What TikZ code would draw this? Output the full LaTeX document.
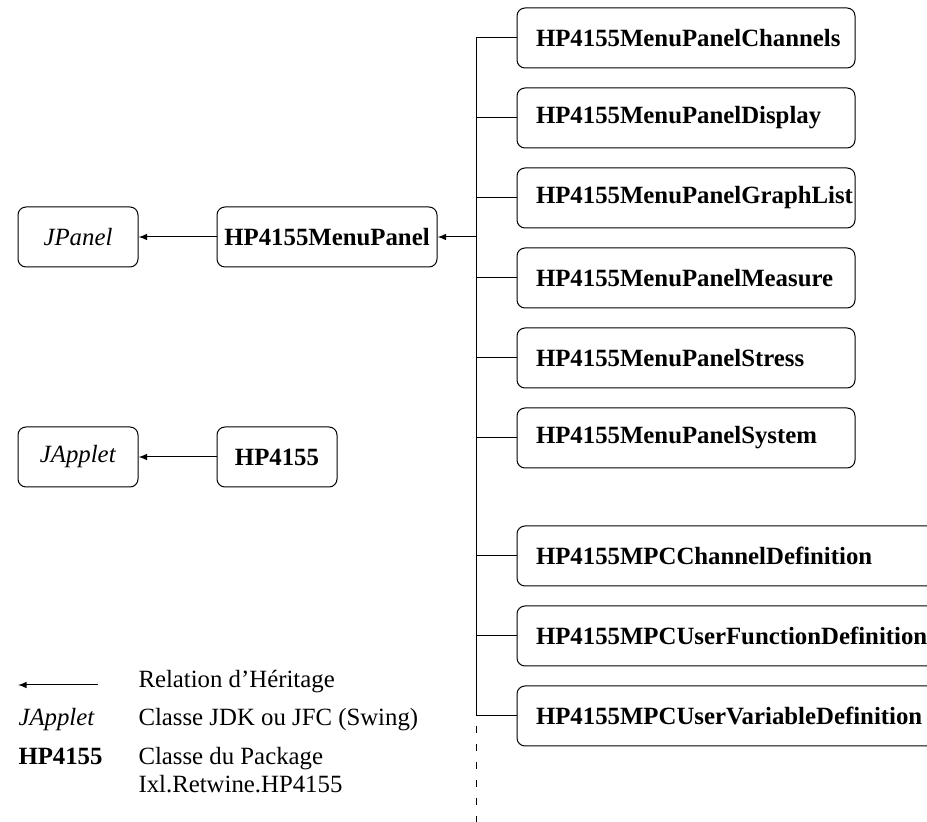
\documentclass[tikz,border=0pt]{standalone}
\usepackage{fontspec}
\setmainfont{Liberation Serif}
\begin{document}
\begin{tikzpicture}[x=0.5pt,y=-0.5pt,line width=0.5pt,
    every node/.style={font=\fontsize{12.4pt}{14.5pt}\selectfont},
    classbox/.style={draw,rounded corners=4pt,minimum height=30pt,inner sep=0pt},
    menubox/.style={classbox,text width=150pt,inner xsep=9.5pt,align=left},
    mpcbox/.style={classbox,text width=203pt,inner xsep=9.5pt,align=left}]
      \useasboundingbox (0,0) rectangle (927,822);
      \node[classbox,minimum width=60pt] (jpanel) at (78,237) {\textit{JPanel}};
      \node[classbox,minimum width=110pt] (menupanel) at (327,237) {\textbf{HP4155MenuPanel}};
      \node[classbox,minimum width=60pt] (japplet) at (78,457) {\textit{JApplet}};
      \node[classbox,minimum width=60pt] (hpmain) at (277,457) {\textbf{HP4155}};
      \node[menubox] (channels) at (686,38) {\textbf{HP4155MenuPanelChannels}};
      \node[menubox] (display) at (686,118) {\textbf{HP4155MenuPanelDisplay}};
      \node[menubox] (graphlist) at (686,198) {\textbf{HP4155MenuPanelGraphList}};
      \node[menubox] (measure) at (686,278) {\textbf{HP4155MenuPanelMeasure}};
      \node[menubox] (stress) at (686,358) {\textbf{HP4155MenuPanelStress}};
      \node[menubox] (system) at (686,438) {\textbf{HP4155MenuPanelSystem}};
      \node[mpcbox] (mpcchannel) at (739,556) {\textbf{HP4155MPCChannelDefinition}};
      \node[mpcbox] (mpcfunction) at (739,636) {\textbf{HP4155MPCUserFunctionDefinition}};
      \node[mpcbox] (mpcvariable) at (739,716) {\textbf{HP4155MPCUserVariableDefinition}};
      \coordinate (trunktop) at (476,38);
      \coordinate (trunkend) at (476,716);
      \coordinate (trunkfoot) at (476,822);
      \coordinate (menujoin) at (476,237);
      \draw (trunktop) -- (trunkend);
      \draw[dash pattern=on 3.5pt off 5.5pt,dash phase=4pt] (trunkend) -- (trunkfoot);
      \foreach \n in {channels,display,graphlist,measure,stress,system,mpcchannel,mpcfunction,mpcvariable}
        \draw (trunktop |- \n.west) -- (\n.west);
      \draw[-latex] (menujoin) -- (menupanel.east);
      \draw[-latex] (menupanel.west) -- (jpanel.east);
      \draw[-latex] (hpmain.west) -- (japplet.east);
      \coordinate (legtail) at (98,685);
      \coordinate (leghead) at (18,685);
      \draw[-latex] (legtail) -- (leghead);
      \node[anchor=base west,inner sep=0pt] (legarrow) at (138,688) {Relation d’Héritage};
      \node[anchor=base west,inner sep=0pt] (legjdk) at (18,726) {\textit{JApplet}};
      \node[anchor=base west,inner sep=0pt] (legjdktext) at (138,726) {Classe JDK ou JFC (Swing)};
      \node[anchor=base west,inner sep=0pt] (legpkg) at (18,765) {\textbf{HP4155}};
      \node[anchor=base west,inner sep=0pt] (legpkgtext) at (138,765) {Classe du Package};
      \node[anchor=base west,inner sep=0pt] (legpkgname) at (138,793) {Ixl.Retwine.HP4155};
\end{tikzpicture}
\end{document}
